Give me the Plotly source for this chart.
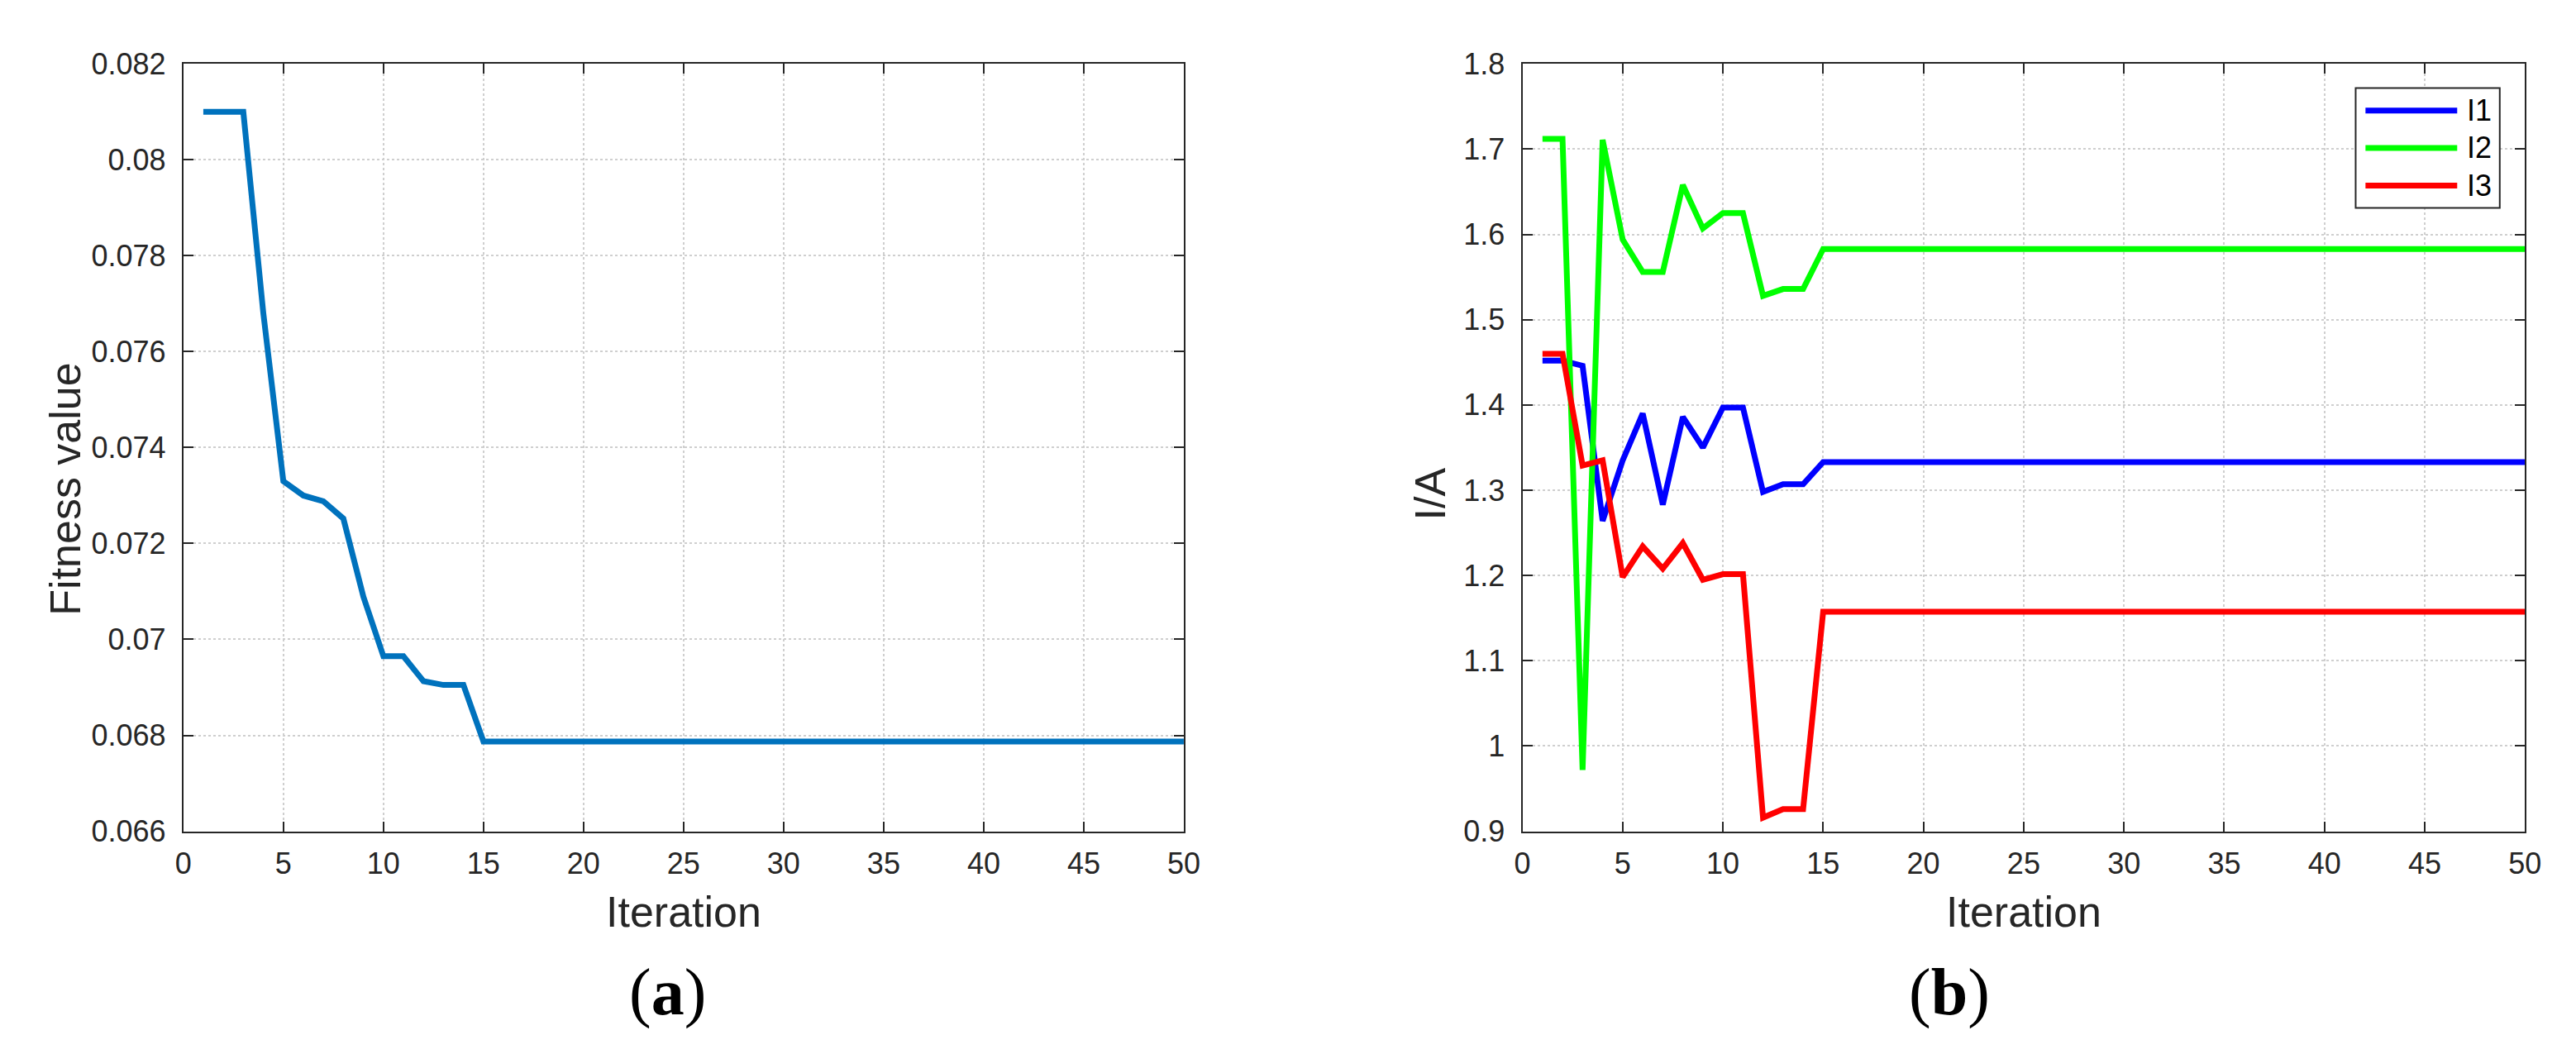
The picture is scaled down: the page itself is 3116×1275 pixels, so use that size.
import plotly.graph_objects as go

# ---------------- data ----------------
iterations = list(range(1, 51))

fitness = [
    0.0810, 0.0810, 0.0810, 0.0768, 0.0733, 0.0730, 0.07288, 0.07252, 0.07089, 0.06965,
    0.06965, 0.06913, 0.06905, 0.06905, 0.06787, 0.06787, 0.06787, 0.06787, 0.06787, 0.06787,
    0.06787, 0.06787, 0.06787, 0.06787, 0.06787, 0.06787, 0.06787, 0.06787, 0.06787, 0.06787,
    0.06787, 0.06787, 0.06787, 0.06787, 0.06787, 0.06787, 0.06787, 0.06787, 0.06787, 0.06787,
    0.06787, 0.06787, 0.06787, 0.06787, 0.06787, 0.06787, 0.06787, 0.06787, 0.06787, 0.06787,
]

I1 = [
    1.452, 1.452, 1.446, 1.264, 1.335, 1.390, 1.283, 1.386, 1.350, 1.397,
    1.397, 1.298, 1.307, 1.307, 1.333, 1.333, 1.333, 1.333, 1.333, 1.333,
    1.333, 1.333, 1.333, 1.333, 1.333, 1.333, 1.333, 1.333, 1.333, 1.333,
    1.333, 1.333, 1.333, 1.333, 1.333, 1.333, 1.333, 1.333, 1.333, 1.333,
    1.333, 1.333, 1.333, 1.333, 1.333, 1.333, 1.333, 1.333, 1.333, 1.333,
]
I2 = [
    1.712, 1.712, 0.972, 1.711, 1.594, 1.556, 1.556, 1.658, 1.607, 1.625,
    1.625, 1.528, 1.536, 1.536, 1.583, 1.583, 1.583, 1.583, 1.583, 1.583,
    1.583, 1.583, 1.583, 1.583, 1.583, 1.583, 1.583, 1.583, 1.583, 1.583,
    1.583, 1.583, 1.583, 1.583, 1.583, 1.583, 1.583, 1.583, 1.583, 1.583,
    1.583, 1.583, 1.583, 1.583, 1.583, 1.583, 1.583, 1.583, 1.583, 1.583,
]
I3 = [
    1.460, 1.460, 1.329, 1.335, 1.198, 1.234, 1.208, 1.238, 1.195, 1.2015,
    1.2015, 0.916, 0.926, 0.926, 1.1575, 1.1575, 1.1575, 1.1575, 1.1575, 1.1575,
    1.1575, 1.1575, 1.1575, 1.1575, 1.1575, 1.1575, 1.1575, 1.1575, 1.1575, 1.1575,
    1.1575, 1.1575, 1.1575, 1.1575, 1.1575, 1.1575, 1.1575, 1.1575, 1.1575, 1.1575,
    1.1575, 1.1575, 1.1575, 1.1575, 1.1575, 1.1575, 1.1575, 1.1575, 1.1575, 1.1575,
]

series_names = ["I1", "I2", "I3"]
series_colors = ["#0000FF", "#00FF00", "#FF0000"]

# ---------------- figure ----------------
W, H = 3116, 1275
FONT = "Liberation Sans, Arial, Helvetica, sans-serif"
AX = "#262626"


def px(x):
    return x / W


def py(y):
    return (H - y) / H


fig = go.Figure()

fig.add_trace(go.Scatter(x=iterations, y=fitness, mode="lines",
                         line=dict(color="#0072BD", width=7),
                         xaxis="x", yaxis="y", showlegend=False))

for name, vals, col in zip(series_names, [I1, I2, I3], series_colors):
    fig.add_trace(go.Scatter(x=iterations, y=vals, mode="lines", name=name,
                             line=dict(color=col, width=7),
                             xaxis="x2", yaxis="y2", showlegend=False))

common = dict(
    showline=True, linecolor=AX, linewidth=2, mirror="allticks",
    ticks="inside", ticklen=12, tickwidth=2, tickcolor=AX,
    showgrid=True, gridcolor="#cfcfcf", gridwidth=1.5, griddash="dot",
    zeroline=False, tickfont=dict(family=FONT, size=36, color=AX),
    fixedrange=True,
)

y_bottom, y_top = 1010, 51
fig.update_layout(
    width=W, height=H,
    margin=dict(l=0, r=0, t=0, b=0),
    paper_bgcolor="white", plot_bgcolor="white",
    showlegend=False,
    xaxis=dict(domain=[px(205.7), px(1427.7)], range=[0, 50], dtick=5, tick0=0,
               anchor="y", ticklabelstandoff=6, **common),
    yaxis=dict(domain=[py(y_bottom), py(y_top)], range=[0.066, 0.082], dtick=0.002,
               tick0=0.066, anchor="x", ticklabelstandoff=12, **common),
    xaxis2=dict(domain=[px(1841.3), px(3065.7)], range=[0, 50], dtick=5, tick0=0,
                anchor="y2", ticklabelstandoff=6, **common),
    yaxis2=dict(domain=[py(y_bottom), py(y_top)], range=[0.9, 1.8], dtick=0.1,
                tick0=0.9, anchor="x2", ticklabelstandoff=12, **common),
)

ann = []
title_font = dict(family=FONT, size=52, color=AX)
ann.append(dict(text="Iteration", x=px(816.7), y=py(1111), xref="paper", yref="paper",
                showarrow=False, font=title_font, xanchor="center", yanchor="middle"))
ann.append(dict(text="Iteration", x=px(2453.5), y=py(1111), xref="paper", yref="paper",
                showarrow=False, font=title_font, xanchor="center", yanchor="middle"))
ann.append(dict(text="Fitness value", x=px(62), y=py(582), xref="paper", yref="paper",
                showarrow=False, font=title_font, textangle=-90,
                xanchor="center", yanchor="middle"))
ann.append(dict(text="I/A", x=px(1729), y=py(588), xref="paper", yref="paper",
                showarrow=False, font=title_font, textangle=-90,
                xanchor="center", yanchor="middle"))
label_font = dict(family="Liberation Serif, Times New Roman, serif", size=80, color="black")
ann.append(dict(text="(<b>a</b>)", x=px(797), y=py(1211), xref="paper", yref="paper",
                showarrow=False, font=label_font, xanchor="center", yanchor="middle"))
ann.append(dict(text="(<b>b</b>)", x=px(2363), y=py(1211), xref="paper", yref="paper",
                showarrow=False, font=label_font, xanchor="center", yanchor="middle"))

# custom legend box (MATLAB style with long line samples)
shapes = [dict(type="rect", xref="paper", yref="paper",
               x0=px(2859), x1=px(3035), y0=py(231), y1=py(81),
               line=dict(color=AX, width=2), fillcolor="white", layer="above")]
legend_rows = [109.3, 156, 203]
for name, col, yy in zip(series_names, series_colors, legend_rows):
    shapes.append(dict(type="line", xref="paper", yref="paper",
                       x0=px(2871), x1=px(2983), y0=py(yy), y1=py(yy),
                       line=dict(color=col, width=7), layer="above"))
    ann.append(dict(text=name, x=px(2993), y=py(yy), xref="paper", yref="paper",
                    showarrow=False, font=dict(family=FONT, size=36, color="black"),
                    xanchor="left", yanchor="middle"))

fig.update_layout(annotations=ann, shapes=shapes)

fig.write_html("out.html")
